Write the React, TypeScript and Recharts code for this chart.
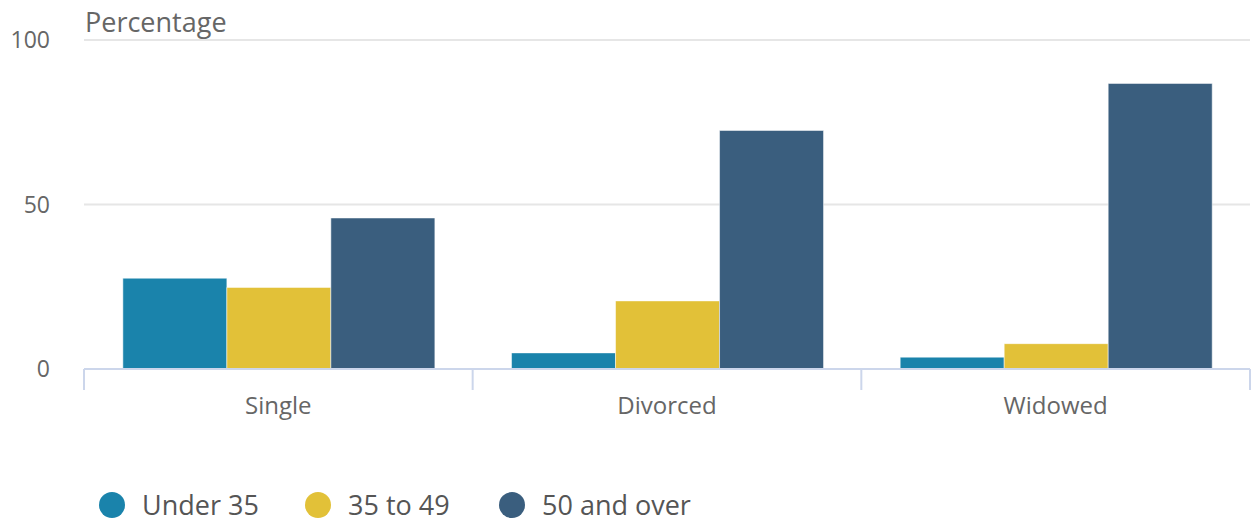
import { BarChart, Bar, XAxis, YAxis, CartesianGrid, Legend } from 'recharts';

const categories = ['Single', 'Divorced', 'Widowed'];
const under35 = [27.6, 4.9, 3.6];
const age35to49 = [24.8, 20.7, 7.7];
const age50plus = [45.9, 72.5, 86.8];
const yTicks = [0, 50, 100];

const series = [
  { key: 'under35', name: 'Under 35', color: '#1a83ab' },
  { key: 'age35to49', name: '35 to 49', color: '#e2c138' },
  { key: 'age50plus', name: '50 and over', color: '#3a5e7e' },
];

const data = categories.map((c, i) => ({
  category: c,
  under35: under35[i],
  age35to49: age35to49[i],
  age50plus: age50plus[i],
}));

const FONT = '"Open Sans", sans-serif';
const legendItemWidths = [206, 194, 200];

function CategoryTick(props: any) {
  const { x, payload, index, visibleTicksCount } = props;
  const half = payload.offset || 0;
  const axisY = 369;
  return (
    <g>
      <line x1={x - half} x2={x - half} y1={axisY} y2={axisY + 21} stroke="#ccd6eb" strokeWidth={2} />
      {index === visibleTicksCount - 1 && (
        <line x1={x + half} x2={x + half} y1={axisY} y2={axisY + 21} stroke="#ccd6eb" strokeWidth={2} />
      )}
      <text x={x} y={axisY + 35} textAnchor="middle" dominantBaseline="central" fill="#666666" fontSize={24} fontFamily={FONT}>
        {payload.value}
      </text>
    </g>
  );
}

function LegendContent() {
  return (
    <div style={{ display: 'flex', alignItems: 'center', fontFamily: FONT, height: 30 }}>
      {series.map((s, i) => (
        <div key={s.key} style={{ display: 'flex', alignItems: 'center', width: legendItemWidths[i] }}>
          <span style={{ width: 26, height: 26, borderRadius: 13, background: s.color, display: 'inline-block', marginRight: 17, flex: 'none' }} />
          <span style={{ fontSize: 27, color: '#555555', lineHeight: '30px', whiteSpace: 'nowrap' }}>{s.name}</span>
        </div>
      ))}
    </div>
  );
}

export default function App() {
  return (
    <div style={{ position: 'absolute', left: 0, top: 0, width: 1254, height: 523, background: '#ffffff', fontFamily: FONT }}>
      <div style={{ position: 'absolute', left: 85, top: 5, fontSize: 27, color: '#666666', lineHeight: '34px', zIndex: 2 }}>
        Percentage
      </div>
      <BarChart
        width={1254}
        height={523}
        data={data}
        margin={{ top: 40, right: 4, left: 0, bottom: 64 }}
        barCategoryGap="10%"
        barGap={0}
      >
        <CartesianGrid vertical={false} stroke="#e6e6e6" strokeWidth={2} />
        <XAxis
          dataKey="category"
          height={60}
          axisLine={{ stroke: '#ccd6eb', strokeWidth: 2 }}
          tickLine={false}
          tick={<CategoryTick />}
          interval={0}
        />
        <YAxis
          width={84}
          domain={[0, 100]}
          ticks={yTicks}
          axisLine={false}
          tickLine={false}
          tickSize={0}
          tickMargin={34}
          tick={{ fill: '#666666', fontSize: 23, fontFamily: FONT }}
        />
        {series.map((s) => (
          <Bar
            key={s.key}
            dataKey={s.key}
            name={s.name}
            fill={s.color}
            stroke="#ffffff"
            strokeOpacity={0.5}
            strokeWidth={1}
            isAnimationActive={false}
          />
        ))}
        <Legend
          height={30}
          content={<LegendContent />}
          wrapperStyle={{ top: 490, bottom: 'auto', left: 99, width: 'auto' }}
        />
      </BarChart>
    </div>
  );
}
